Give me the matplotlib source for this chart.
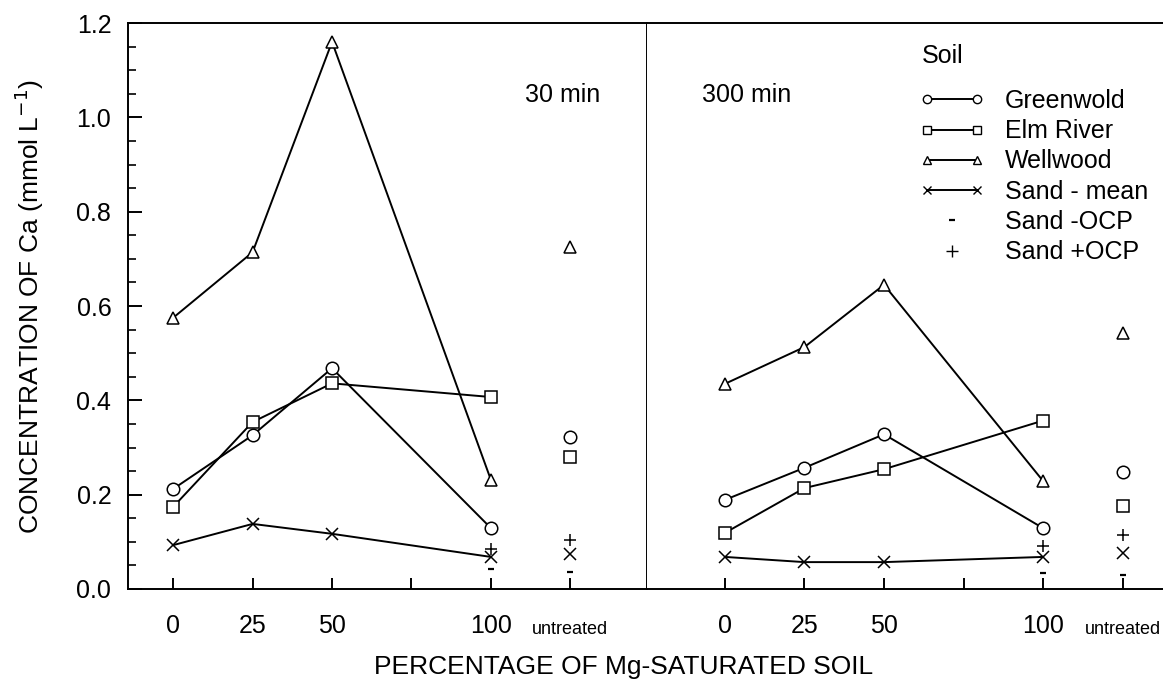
import matplotlib
matplotlib.use('Agg')
import matplotlib.pyplot as plt
from matplotlib.lines import Line2D
from matplotlib.legend_handler import HandlerLine2D
from matplotlib.transforms import ScaledTranslation

plt.rcParams['font.family'] = ['Liberation Sans', 'DejaVu Sans']

# x positions (percentage Mg-saturated soil); untreated is plotted at 125
pct = [0, 25, 50, 100]
untreated_x = 125
tick_pos = [0, 25, 50, 75, 100, 125]
tick_lbl = ['0', '25', '50', '', '100', 'untreated']

# 30 min
greenwold_30 = [0.212, 0.326, 0.468, 0.129]
elm_30 = [0.174, 0.354, 0.436, 0.407]
wellwood_30 = [0.575, 0.714, 1.160, 0.231]
sand_mean_30 = [0.093, 0.138, 0.117, 0.068]
untreated_30 = {'greenwold': 0.322, 'elm': 0.280, 'wellwood': 0.725, 'sand': 0.074}
sand_minus_30 = [0.042, 0.036]   # at 100, untreated
sand_plus_30 = [0.085, 0.104]

# 300 min
greenwold_300 = [0.189, 0.257, 0.328, 0.129]
elm_300 = [0.119, 0.214, 0.254, 0.357]
wellwood_300 = [0.435, 0.513, 0.645, 0.229]
sand_mean_300 = [0.068, 0.057, 0.057, 0.068]
untreated_300 = {'greenwold': 0.248, 'elm': 0.176, 'wellwood': 0.543, 'sand': 0.076}
sand_minus_300 = [0.034, 0.030]
sand_plus_300 = [0.091, 0.114]

W, H = 1163, 689
fig = plt.figure(figsize=(W / 100, H / 100), dpi=100)
bot = 1 - 589 / H
hgt = (589 - 23) / H
ax1 = fig.add_axes([128 / W, bot, (647 - 128) / W, hgt])
ax2 = fig.add_axes([647 / W, bot, (W - 647) / W, hgt])

mk = dict(color='black', lw=1.4, mfc='white', mec='black', mew=1.1, ms=9)
styles = {'greenwold': 'o', 'elm': 's', 'wellwood': '^', 'sand': 'x'}


def panel(ax, g, e, w, s, unt, minus, plus):
    ax.plot(pct, g, marker='o', **mk)
    ax.plot(pct, e, marker='s', **mk)
    ax.plot(pct, w, marker='^', **mk)
    ax.plot(pct, s, marker='x', **mk)
    for key, m in styles.items():
        ax.plot([untreated_x], [unt[key]], marker=m, ls='none',
                mfc='white', mec='black', mew=1.1, ms=9)
    ax.plot([100, untreated_x], minus, marker='_', ls='none', color='black', ms=4, mew=1.6)
    ax.plot([100, untreated_x], plus, marker='+', ls='none', color='black', ms=9, mew=1.1)
    ax.set_ylim(0, 1.2)
    ax.set_xticks(tick_pos)
    ax.set_xticklabels(tick_lbl)
    ax.tick_params(axis='x', direction='in', length=8, width=1.4, pad=18, labelsize=18)
    for lab in ax.get_xticklabels():
        if lab.get_text() == 'untreated':
            lab.set_fontsize(13)
            lab.set_transform(lab.get_transform() + ScaledTranslation(0, -5 / 72, fig.dpi_scale_trans))
    for sp in ax.spines.values():
        sp.set_linewidth(1.4)


panel(ax1, greenwold_30, elm_30, wellwood_30, sand_mean_30,
      untreated_30, sand_minus_30, sand_plus_30)
panel(ax2, greenwold_300, elm_300, wellwood_300, sand_mean_300,
      untreated_300, sand_minus_300, sand_plus_300)

ax1.set_xlim(-14.2, 149.1)
ax2.set_xlim(-24.5, 137.7)

ax1.set_yticks([0.0, 0.2, 0.4, 0.6, 0.8, 1.0, 1.2])
ax1.set_yticklabels(['0.0', '0.2', '0.4', '0.6', '0.8', '1.0', '1.2'])
ax1.set_yticks([i * 0.05 for i in range(25)], minor=True)
ax1.tick_params(axis='y', which='major', direction='in', length=10, width=1.4, pad=12, labelsize=18)
ax1.tick_params(axis='y', which='minor', direction='in', length=6, width=1.2)
ax2.tick_params(axis='y', which='both', left=False, labelleft=False)
ax2.spines['left'].set_visible(False)
ax2.spines['right'].set_visible(False)

ax1.set_ylabel('CONCENTRATION OF Ca (mmol L$^{-1}$)', fontsize=19, labelpad=22)
fig.text(624 / W, 1 - 667 / H, 'PERCENTAGE OF Mg-SATURATED SOIL',
         fontsize=19, ha='center', va='center')

ax1.text(0.909, 0.873, '30 min', transform=ax1.transAxes, fontsize=18, ha='right', va='center')
ax2.text(0.107, 0.873, '300 min', transform=ax2.transAxes, fontsize=18, ha='left', va='center')

# legend
lm = dict(color='black', lw=1.4, mfc='white', mec='black', mew=1.0, ms=6)
handles = [
    Line2D([], [], marker='o', **lm),
    Line2D([], [], marker='s', **lm),
    Line2D([], [], marker='^', **lm),
    Line2D([], [], marker='x', **lm),
    Line2D([], [], marker='_', ls='none', color='black', ms=4, mew=1.6),
    Line2D([], [], marker='+', ls='none', color='black', ms=8, mew=1.0),
]
labels = ['Greenwold', 'Elm River', 'Wellwood', 'Sand - mean', 'Sand -OCP', 'Sand +OCP']
hm = {handles[4]: HandlerLine2D(numpoints=1), handles[5]: HandlerLine2D(numpoints=1)}
fig.text(922 / W, 1 - 56 / H, 'Soil', fontsize=18, ha='left', va='center')
leg = ax2.legend(handles, labels, loc='upper left',
                 bbox_to_anchor=(920 / W, 1 - 89 / H), bbox_transform=fig.transFigure,
                 frameon=False, numpoints=2, handlelength=2.6, handletextpad=0.8,
                 labelspacing=0.25, fontsize=18,
                 handler_map=hm, borderpad=0, borderaxespad=0)

fig.savefig('out.png', dpi=100)
